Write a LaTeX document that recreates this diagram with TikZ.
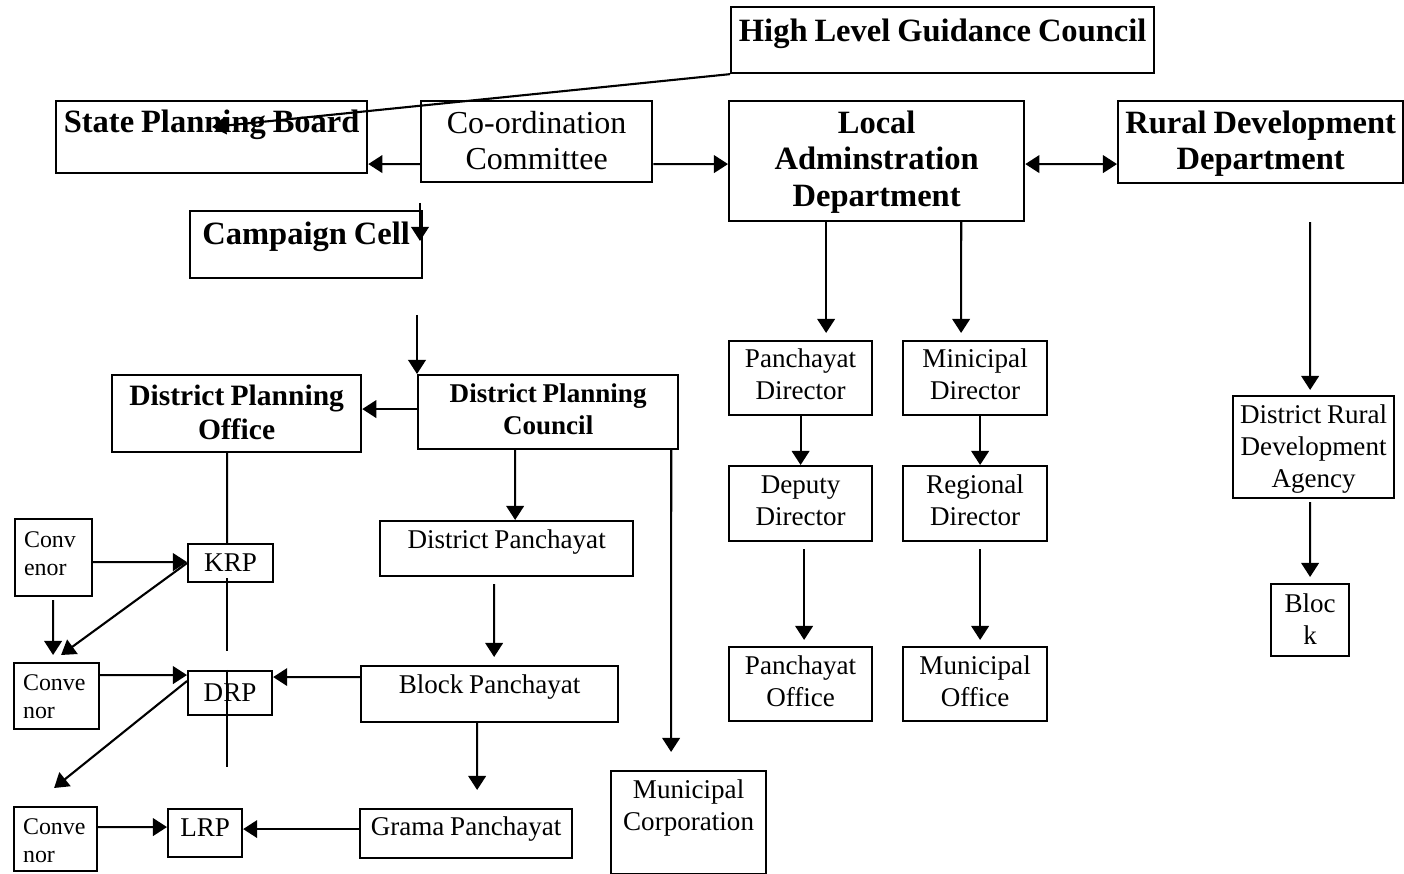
\documentclass[tikz,border=0pt]{standalone}
\usepackage{fontspec}
\setmainfont[WordSpace=0.85]{Liberation Serif}
\usepackage{tikz}
\usetikzlibrary{arrows.meta}
\newcommand{\headfont}{\fontsize{9.25}{10.5}\selectfont\bfseries}
\newcommand{\plainfont}{\fontsize{9.1}{10.4}\selectfont}
\newcommand{\dpofont}{\fontsize{8.4}{9.7}\selectfont\bfseries}
\newcommand{\dpcfont}{\fontsize{7.7}{9.1}\selectfont\bfseries}
\newcommand{\boxfont}{\fontsize{7.7}{9.1}\selectfont}
\newcommand{\convfont}{\fontsize{6.8}{8.1}\selectfont}
\tikzstyle{box}=[rectangle,draw=black,anchor=north west,inner sep=0pt,align=flush center]
\tikzstyle{conv}=[box,align=flush left,inner xsep=0.9mm,font=\convfont]
\tikzstyle{arrow}=[->,>={Triangle[length=4pt,width=5pt]}]
\begin{document}
\begin{tikzpicture}[x=0.01cm,y=-0.01cm,line width=0.6pt]
\useasboundingbox (0,0) rectangle (1404,874);
% state level
\node (hlgc) [box,font=\headfont,text width=42.3mm,text height=3.4mm,text depth=3.2mm] at (730,6) {High Level Guidance Council};
\node (spb) [box,font=\headfont,text width=31.1mm,text height=3.1mm,text depth=4.1mm] at (55,100) {State Planning Board};
\node (coc) [box,font=\plainfont,text width=23.1mm,text height=3.2mm,text depth=4.9mm] at (420,100) {Co-ordination\\Committee};
\node (lad) [box,font=\headfont,text width=29.5mm,text height=3.2mm,text depth=8.8mm] at (728,100) {Local\\Adminstration\\Department};
\node (rdd) [box,font=\headfont,text width=28.5mm,text height=3.2mm,text depth=5.0mm] at (1117,100) {Rural Development\\Department};
\node (cc) [box,font=\headfont,text width=23.2mm,text height=3.3mm,text depth=3.4mm] at (189,210) {Campaign Cell};
% district level
\node (dpo) [box,font=\dpofont,text width=24.9mm,text height=3.0mm,text depth=4.7mm] at (111,374) {District Planning\\Office};
\node (dpc) [box,font=\dpcfont,text width=26.0mm,text height=2.7mm,text depth=4.7mm] at (417,374) {District Planning\\Council};
\node (dpan) [box,font=\boxfont,text width=25.3mm,text height=2.7mm,text depth=2.8mm] at (379,520) {District Panchayat};
\node (bpan) [box,font=\boxfont,text width=25.7mm,text height=2.7mm,text depth=2.9mm] at (360,665) {Block Panchayat};
\node (gpan) [box,font=\boxfont,text width=21.2mm,text height=2.6mm,text depth=2.3mm] at (359,808) {Grama Panchayat};
\node (mcorp) [box,font=\boxfont,text width=15.5mm,text height=2.7mm,text depth=7.6mm] at (610,770) {Municipal\\Corporation};
% directors
\node (pdir) [box,font=\boxfont,text width=14.3mm,text height=2.6mm,text depth=4.8mm] at (728,340) {Panchayat\\Director};
\node (mdir) [box,font=\boxfont,text width=14.4mm,text height=2.6mm,text depth=4.8mm] at (902,340) {Minicipal\\Director};
\node (ddir) [box,font=\boxfont,text width=14.3mm,text height=2.7mm,text depth=4.8mm] at (728,465) {Deputy\\Director};
\node (rdir) [box,font=\boxfont,text width=14.4mm,text height=2.7mm,text depth=4.8mm] at (902,465) {Regional\\Director};
\node (poff) [box,font=\boxfont,text width=14.3mm,text height=2.7mm,text depth=4.7mm] at (728,646) {Panchayat\\Office};
\node (moff) [box,font=\boxfont,text width=14.4mm,text height=2.7mm,text depth=4.7mm] at (902,646) {Municipal\\Office};
\node (drda) [box,font=\boxfont,text width=16.1mm,text height=2.7mm,text depth=7.5mm] at (1232,395) {District Rural\\Development\\Agency};
\node (blk) [box,font=\boxfont,text width=7.8mm,text height=2.8mm,text depth=4.4mm] at (1270,583) {Bloc\\k};
% resource persons
\node (krp) [box,font=\boxfont,text width=8.5mm,text height=2.7mm,text depth=1.1mm] at (187,543) {KRP};
\node (drp) [box,font=\boxfont,text width=8.4mm,text height=3.0mm,text depth=1.4mm] at (187,670) {DRP};
\node (lrp) [box,font=\boxfont,text width=7.4mm,text height=2.7mm,text depth=2.1mm] at (167,808) {LRP};
\node (cv1) [conv,text width=5.9mm,text height=2.8mm,text depth=4.9mm] at (14,518) {Conv\\enor};
\node (cv2) [conv,text width=6.7mm,text height=2.7mm,text depth=3.9mm] at (13,662) {Conve\\nor};
\node (cv3) [conv,text width=6.5mm,text height=2.7mm,text depth=3.7mm] at (13,806) {Conve\\nor};
\coordinate (spbtip) at (212,127);
\coordinate (ccin) at (420,203);
\coordinate (ccout) at (420,241);
\coordinate (dpcin) at (417,315);

\draw [arrow] (hlgc.south west) -- (spbtip);
\draw [arrow] ([yshift=-2.25mm]coc.west) -- ([yshift=-2.7mm]spb.east);
\draw [arrow] ([yshift=-2.25mm]coc.east) -- ([yshift=-0.3mm]lad.west);
\draw [arrow,<->] ([yshift=-0.3mm]lad.east) -- ([yshift=-2.2mm]rdd.west);
\draw [arrow] (ccin) -- (ccout);
\draw [arrow] (dpcin) -- (dpc.north west);
\draw [arrow] ([yshift=0.3mm]dpc.west) -- ([yshift=0.45mm]dpo.east);
\draw [arrow] ([xshift=-3.3mm]dpc.south) -- ([xshift=0.85mm]dpan.north);
\draw [arrow,shorten >=1.8mm] ([xshift=12.3mm]dpc.south) -- ([xshift=-1.75mm]mcorp.north);
\draw [arrow,shorten <=0.7mm,shorten >=0.8mm] ([xshift=-1.25mm]dpan.south) -- ([xshift=0.45mm]bpan.north);
\draw [arrow,shorten >=1.8mm] ([xshift=-1.25mm]bpan.south) -- ([xshift=1.1mm]gpan.north);
\draw [arrow] ([yshift=1.7mm]bpan.west) -- ([yshift=1.6mm]drp.east);
\draw [arrow] ([yshift=0.45mm]gpan.west) -- ([yshift=0.4mm]lrp.east);

\draw ([xshift=-0.95mm]dpo.south) -- ([xshift=-0.35mm]krp.north);
\draw ([xshift=-0.35mm,yshift=-1.5mm]krp.center) -- ++(0,73);
\draw ([xshift=-0.3mm]drp.north) -- ++(0,97);

\draw [arrow] ([yshift=-0.45mm]cv1.east) -- ([yshift=0.1mm]krp.west);
\draw [arrow] (krp.west) -- ([xshift=0.45mm,yshift=0.7mm]cv2.north);
\draw [arrow,shorten <=0.3mm,shorten >=0.7mm] ([xshift=-0.05mm]cv1.south) -- ([xshift=-0.35mm]cv2.north);
\draw [arrow] ([yshift=2.1mm]cv2.east) -- ([yshift=1.8mm]drp.west);
\draw [arrow] ([yshift=1.2mm]drp.west) -- ([xshift=-0.15mm,yshift=1.8mm]cv3.north);
\draw [arrow] ([yshift=1.2mm]cv3.east) -- ([yshift=0.6mm]lrp.west);

\draw [arrow,shorten >=0.7mm] ([xshift=-5.05mm]lad.south) -- ([xshift=2.55mm]pdir.north);
\draw [arrow,shorten >=0.7mm] ([xshift=8.45mm]lad.south) -- ([xshift=-1.4mm]mdir.north);
\draw [arrow] (pdir.south) -- (ddir.north);
\draw [arrow] ([xshift=0.5mm]mdir.south) -- ([xshift=0.5mm]rdir.north);
\draw [arrow,shorten <=0.7mm,shorten >=0.6mm] ([xshift=0.35mm]ddir.south) -- ([xshift=0.35mm]poff.north);
\draw [arrow,shorten <=0.7mm,shorten >=0.6mm] ([xshift=0.5mm]rdir.south) -- ([xshift=0.5mm]moff.north);
\draw [arrow,shorten <=3.8mm,shorten >=0.5mm] ([xshift=4.95mm]rdd.south) -- ([xshift=-0.35mm]drda.north);
\draw [arrow,shorten <=0.3mm,shorten >=0.6mm] ([xshift=-0.35mm]drda.south) -- (blk.north);
\end{tikzpicture}
\end{document}
